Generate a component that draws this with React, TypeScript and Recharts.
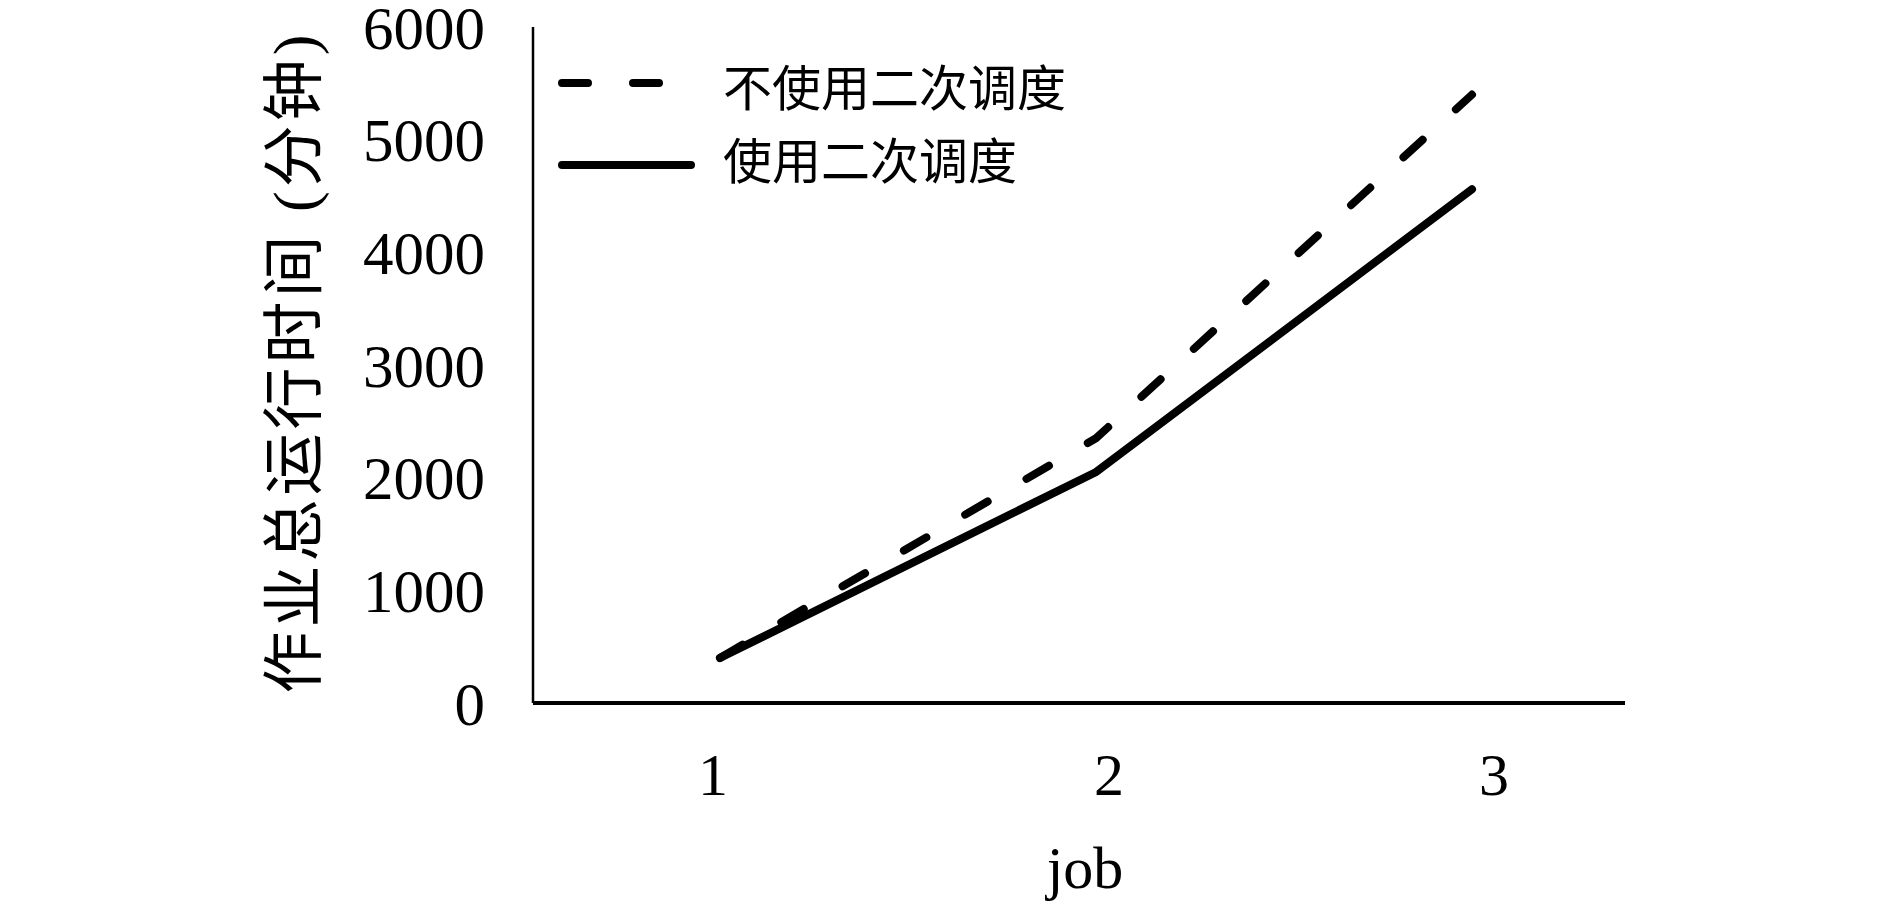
import { LineChart, Line, XAxis, YAxis, Legend } from "recharts";

const jobs = ["1", "2", "3"];
const withoutReschedule = [400, 2350, 5400];
const withReschedule = [400, 2050, 4560];
const yTicks = [0, 1000, 2000, 3000, 4000, 5000, 6000];

const series = [
  { key: "without", name: "不使用二次调度", dash: "26 45" },
  { key: "with", name: "使用二次调度", dash: undefined },
];

const data = jobs.map((job, i) => ({
  job,
  without: withoutReschedule[i],
  with: withReschedule[i],
}));

const FONT = "'Liberation Serif', 'Times New Roman', 'Noto Sans CJK SC', serif";

// the category labels sit a little off the points in the original
const tickNudge = [-7, 13, 22];

const XTick = (props: any) => {
  const { x, y, payload, index } = props;
  return (
    <text
      x={x + (tickNudge[index] || 0)}
      y={y}
      dy="0.71em"
      textAnchor="middle"
      fontSize={60}
      fontFamily={FONT}
      fill="#000"
    >
      {payload.value}
    </text>
  );
};

const renderYLabel = () => (
  <text
    x={295}
    y={362}
    transform="rotate(-90 295 362)"
    textAnchor="middle"
    dominantBaseline="central"
    fontSize={62}
    letterSpacing={4}
    fontFamily={FONT}
    fill="#000"
  >
    作业总运行时间 (分钟)
  </text>
);

const renderXLabel = () => (
  <text
    x={1085}
    y={888}
    textAnchor="middle"
    fontSize={60}
    fontFamily={FONT}
    fill="#000"
  >
    job
  </text>
);

const renderLegend = () => (
  <svg width={1100} height={220}>
    {series.map((s, i) => {
      const lineY = 83 + i * 82;
      const textY = 89 + i * 73;
      return (
        <g key={s.key}>
          <line
            x1={562}
            x2={691}
            y1={lineY}
            y2={lineY}
            stroke="#000"
            strokeWidth={8}
            strokeLinecap="round"
            strokeDasharray={s.dash}
          />
          <text
            x={723}
            y={textY}
            dominantBaseline="central"
            fontSize={49}
            fontFamily={FONT}
            fill="#000"
          >
            {s.name}
          </text>
        </g>
      );
    })}
  </svg>
);

export default function App() {
  return (
    <div style={{ position: "absolute", left: 0, top: 0, background: "#fff" }}>
      <LineChart
        width={1890}
        height={909}
        data={data}
        margin={{ top: 27, right: 265, bottom: 0, left: 0 }}
      >
        <XAxis
          dataKey="job"
          height={206}
          padding={{ left: 187, right: 153 }}
          axisLine={{ stroke: "#000", strokeWidth: 4 }}
          tickLine={false}
          tickSize={0}
          tickMargin={49}
          interval={0}
          tick={<XTick />}
          label={{ content: renderXLabel }}
        />
        <YAxis
          width={533}
          domain={[0, 6000]}
          ticks={yTicks}
          interval={0}
          axisLine={{ stroke: "#000", strokeWidth: 2.5 }}
          tickLine={false}
          tickSize={0}
          tickMargin={48}
          tick={{ fontSize: 61, fontFamily: FONT, fill: "#000" }}
          label={{ content: renderYLabel }}
        />
        <Legend
          layout="horizontal"
          verticalAlign="middle"
          align="center"
          content={renderLegend}
          wrapperStyle={{ left: 0, top: 0, width: 1100, height: 220 }}
        />
        {series.map((s) => (
          <Line
            key={s.key}
            type="linear"
            dataKey={s.key}
            name={s.name}
            stroke="#000"
            strokeWidth={8}
            strokeLinecap="round"
            strokeDasharray={s.dash}
            dot={false}
            activeDot={false}
            isAnimationActive={false}
          />
        ))}
      </LineChart>
    </div>
  );
}
